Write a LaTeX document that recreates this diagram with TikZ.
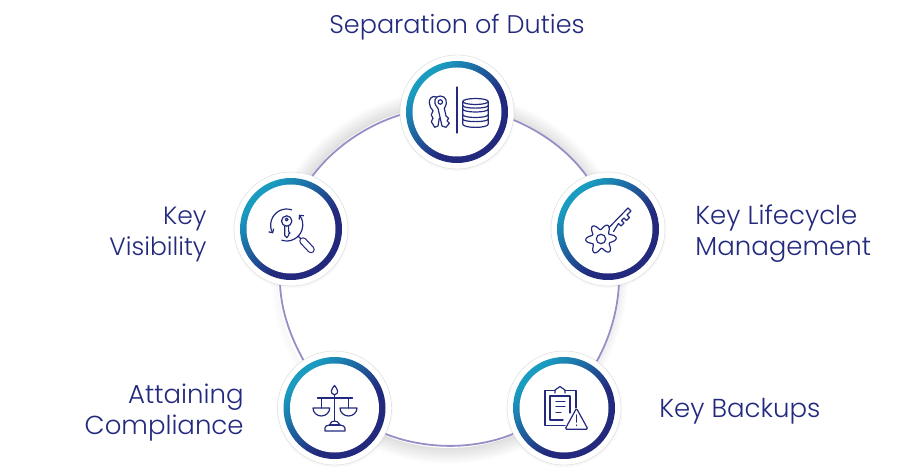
\documentclass[tikz,border=0pt]{standalone}
\usepackage{fontspec}
\setmainfont[UprightFont=* Light]{Poppins}
\usepackage{xcolor}
\usetikzlibrary{positioning,shadows,arrows.meta}

\definecolor{hubnavy}{HTML}{232A7E}
\definecolor{hubteal}{HTML}{1A9BC0}
\definecolor{linkviolet}{HTML}{9490C6}
\pgfdeclarehorizontalshading{hubring}{100bp}{color(0bp)=(hubteal); color(30bp)=(hubteal); color(58bp)=(hubnavy); color(100bp)=(hubnavy)}

\begin{document}
\begin{tikzpicture}[
  x=1pt, y=-1pt,
  hubnode/.style={circle, minimum size=114pt, inner sep=0pt, fill=white, draw=black!15, line width=.4pt,
                  circular drop shadow={shadow xshift=0pt, shadow yshift=-1pt, shadow scale=1.03, opacity=.2},
                  path picture={
                    \shade[shading=hubring, shading angle=-45] (path picture bounding box.center) circle (51pt);
                    \fill[white] (path picture bounding box.center) circle (44.5pt);}},
  link/.style={draw=linkviolet, line width=1.8pt, looseness=.86},
  caption/.style={font=\fontsize{26}{31}\selectfont, text=hubnavy, inner sep=0pt},
  icon/.style={draw=hubnavy, line width=1.2pt, line join=round, line cap=round},
  barb/.style={-{Straight Barb[length=3pt,width=6pt]}},
]
\useasboundingbox[fill=white] (0,0) rectangle (900,476);

% soft shadow outside the links
\begin{scope}[shift={(449,277)}]
  \foreach \from/\to/\depth/\strength in {-87/-163/16/.009, -163/-229/8/.005, -229/-311/16/.009, -311/-377/8/.007, -17/-87/14/.008}
    \foreach \r in {1,...,\depth}
      \draw[black, opacity=\strength, line width=\r pt] (\from:171+\r/2) arc[radius=171+\r/2, start angle=\from, end angle=\to];
\end{scope}

\foreach \name/\pos in {duties/{(457,112)}, visibility/{(291,229)}, lifecycle/{(608,229)},
                        compliance/{(334.5,408)}, backups/{(564,408)}}
  \node[hubnode] (\name) at \pos {};

\draw[link] (duties.183) to[out=197.5, in=53.1] (visibility.68);
\draw[link] (visibility.259) to[out=272.7, in=118.9] (compliance.123);
\draw[link] (compliance.333) to[out=338.6, in=202.2] (backups.207);
\draw[link] (backups.55) to[out=60.9, in=266.6] (lifecycle.281);
\draw[link] (lifecycle.112) to[out=125.9, in=337.2] (duties.352);

\node[caption, font=\fontsize{25.5}{31}\selectfont, above=15pt of duties] (dutiestext) {Separation of Duties};
\node[caption, font=\fontsize{25}{31}\selectfont, align=right, left=27pt of visibility, yshift=-5pt] (visibilitytext) {Key\\Visibility};
\node[caption, align=left, right=30pt of lifecycle, yshift=-5pt] (lifecycletext) {Key Lifecycle\\Management};
\node[caption, align=right, left=33.5pt of compliance, yshift=-5pt] (compliancetext) {Attaining\\Compliance};
\node[caption, right=38pt of backups, yshift=-3pt] (backupstext) {Key Backups};

% keys and database
\begin{scope}[shift={(duties.center)}]
  \draw[icon] (0,-25) -- (0,21);
  \draw[icon] (5.7,-10.5) arc[x radius=12.8, y radius=3, start angle=180, end angle=-180];
  \draw[icon] (5.7,-10.5) -- (5.7,12) .. controls (5.7,16.5) and (31.3,16.5) .. (31.3,12) -- (31.3,-10.5);
  \draw[icon] (5.7,-3) .. controls (5.7,1) and (31.3,1) .. (31.3,-3);
  \draw[icon] (5.7,2.5) .. controls (5.7,6.5) and (31.3,6.5) .. (31.3,2.5);
  \draw[icon] (5.7,-6.5) .. controls (5.7,-3) and (31.3,-3) .. (31.3,-6.5);
  \draw[icon] (5.7,7) .. controls (5.7,10.5) and (31.3,10.5) .. (31.3,7);
  \draw[icon] (-16.7,-10) circle (2.2);
  \draw[icon] (-19,-3.7) .. controls (-25,-10) and (-22,-16) .. (-16.7,-16) .. controls (-11,-16) and (-8.5,-10) .. (-12.7,-3.7)
    -- (-11,4) -- (-8.3,6.3) -- (-10,8.7) -- (-7.7,11.3) -- (-11,15.3) -- (-15,14) -- cycle;
  \draw[icon] (-20.5,-15) .. controls (-25,-17) and (-28,-13) .. (-27.7,-9.3) .. controls (-27.5,-6) and (-26,-3) .. (-24,-1.3)
    -- (-25.7,3) -- (-24,6.3) -- (-25.7,9.7) -- (-22.3,15.3) -- (-19,14) -- (-17.7,6.3);
\end{scope}

% key under a lens
\begin{scope}[shift={(visibility.center)}]
  \draw[icon, barb] (.64,-19.2) arc[radius=16, start angle=-72, end angle=-212];
  \draw[icon, barb] (-9.2,11.2) arc[radius=16, start angle=108, end angle=-40];
  \draw[icon] (-4.3,-8) circle (5.2);
  \draw[icon] (-4.3,-9.5) circle (1.4);
  \draw[icon] (-6.2,-3) -- (-6.2,6.5) -- (-4.3,8.5) -- (-2.4,6.5) -- (-2.4,5) -- (-1,4) -- (-2.4,2.5) -- (-2.4,-3);
  \draw[icon] (7,7) -- (10,10);
  \draw[hubnavy, line width=7.5pt, line cap=round] (12,12) -- (20,20.5);
  \draw[white, line width=5.1pt, line cap=round] (12,12) -- (20,20.5);
\end{scope}

% key with a gear head
\begin{scope}[shift={(lifecycle.center)}]
  \draw[icon] plot[domain=0:360, samples=73, smooth] ({-7+(12.3+3*cos(6*\x+20))*cos(\x)}, {10+(12.3+3*cos(6*\x+20))*sin(\x)});
  \draw[icon] (-7,10) circle (4.7);
  \draw[icon] (1,-1.5) -- (20,-21) -- (23,-18) -- (19,-14) -- (21.5,-11.5) -- (18.5,-8.5) -- (16,-11) -- (13.5,-8.5)
    -- (16,-6) -- (13,-3) -- (10.5,-5.5) -- (5.5,2.5);
\end{scope}

% scales
\begin{scope}[shift={(compliance.center)}]
  \draw[icon] (0,-13) .. controls (-6,-15) and (-2,-20) .. (0,-22.5) .. controls (2,-20) and (6,-15) .. (0,-13);
  \draw[icon] (0,-13) -- (0,13);
  \draw[icon] (-17,-10) -- (18,-10);
  \draw[icon] (-13,-10) -- (-13,0);
  \draw[icon] (14,-10) -- (14,0);
  \draw[icon] (-21.5,0) -- (-4.8,0) arc[x radius=8.35, y radius=8, start angle=0, end angle=180];
  \draw[icon] (5.5,0) -- (22.5,0) arc[x radius=8.5, y radius=8, start angle=0, end angle=180];
  \draw[icon] (-9.5,23) -- (10.5,23) -- (10.5,20) .. controls (10.5,18) and (8,17.5) .. (5.5,17)
    .. controls (4,14) and (2,13) .. (0,13) .. controls (-2,13) and (-4,14) .. (-5,17)
    .. controls (-8,17.5) and (-9.5,18) .. (-9.5,20) -- cycle;
  \draw[icon] (-5,17) -- (5.5,17);
\end{scope}

% clipboard with warning
\begin{scope}[shift={(backups.center)}]
  \draw[icon] (1,17.6) -- (-19,17.6) -- (-19,-17.3) -- (-9,-17.3);
  \draw[icon] (1,-17.3) -- (12,-17.3) -- (12,0);
  \draw[icon] (-9,-15) -- (-9,-18) .. controls (-6,-18.5) and (-6,-21.5) .. (-4,-21.5)
    .. controls (-2,-21.5) and (-2,-18.5) .. (1,-18) -- (1,-15);
  \draw[icon] (-1,12) -- (-14,12) -- (-14,-12) -- (6,-12) -- (6,5);
  \draw[icon] (-8,-6.3) -- (1,-6.3);
  \draw[icon] (-8,-1.3) -- (1,-1.3);
  \draw[icon] (-8,4.7) -- (-3,4.7);
  \draw[icon, rounded corners=1.5pt] (12.5,.3) -- (24,21.3) -- (1,21.3) -- cycle;
  \draw[icon, line width=1.5pt] (12.3,7) -- (12.3,14);
  \draw[icon, line width=1.5pt] (12.3,17) -- (12.3,17.4);
\end{scope}
\end{tikzpicture}
\end{document}
